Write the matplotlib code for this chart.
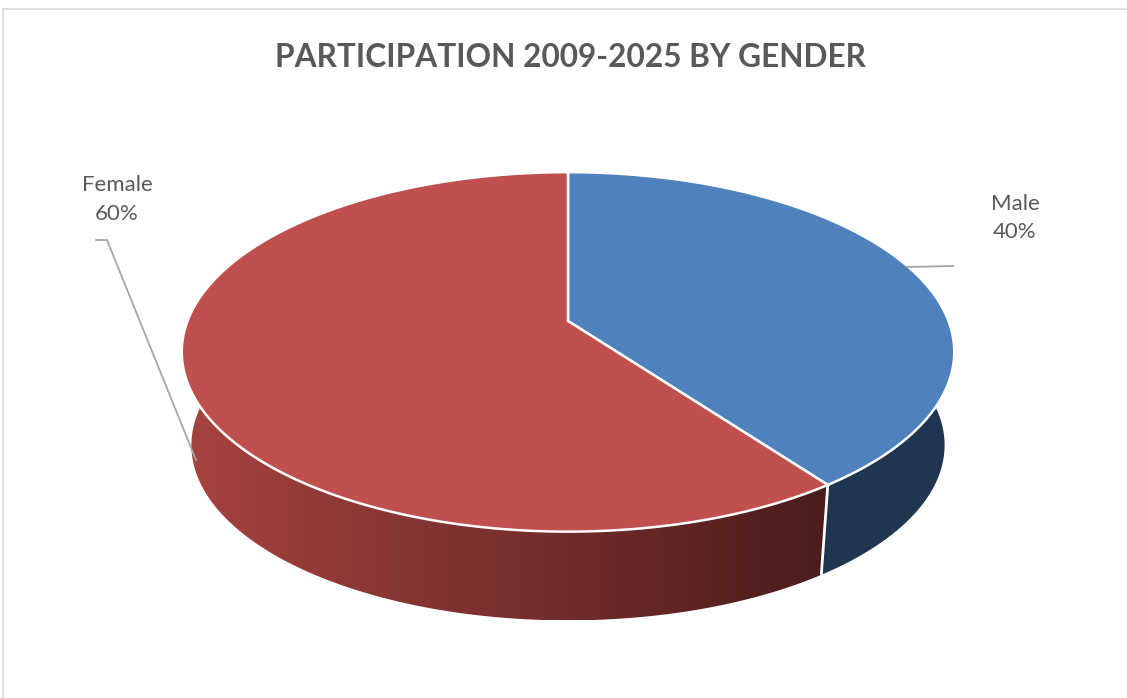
import numpy as np
import matplotlib
matplotlib.use("Agg")
import matplotlib.pyplot as plt
from matplotlib.patches import Polygon
from matplotlib.colors import LinearSegmentedColormap

# ---- data ----
categories = ["Male", "Female"]
values = [40, 60]
pct_labels = ["40%", "60%"]
title = "PARTICIPATION 2009-2025 BY GENDER"

top_colors = ["#4F81BD", "#C0504D"]
side_colors = ["#1F3550", None]          # female side uses a gradient
female_grad = ["#A6433F", "#4B1C1C"]
text_color = "#595959"
leader_color = "#A6A6A6"

W, H = 1127, 698
fig = plt.figure(figsize=(W / 100, H / 100), dpi=100)
ax = fig.add_axes([0, 0, 1, 1])
ax.set_xlim(0, W)
ax.set_ylim(H, 0)
ax.axis("off")

# ---- perspective pie geometry ----
cx, cy = 568.0, 321.0
sx, sy, k = 380.5, 174.4, 0.172
f_bot, h_bot = 0.975, 94.0


def proj(theta_deg, bottom=False):
    th = np.radians(theta_deg)
    X, Y = np.sin(th), np.cos(th)
    den = 1 + k * Y
    u, v = sx * X / den, sy * Y / den
    if bottom:
        return cx + f_bot * u, cy + h_bot - f_bot * v
    return cx + u, cy - v


total = float(sum(values))
bounds = np.concatenate([[0.0], np.cumsum(values) / total * 360.0])

side_lo, side_hi = 70.0, 290.0

# sides
for i in range(len(values)):
    a, b = max(bounds[i], side_lo), min(bounds[i + 1], side_hi)
    if a >= b:
        continue
    th = np.linspace(a, b, 200)
    tx, ty = proj(th)
    bx, by = proj(th, bottom=True)
    pts = np.column_stack([np.concatenate([tx, bx[::-1]]),
                           np.concatenate([ty, by[::-1]])])
    if side_colors[i] is not None:
        ax.add_patch(Polygon(pts, closed=True, facecolor=side_colors[i],
                             edgecolor="none", zorder=2))
    else:
        poly = Polygon(pts, closed=True, facecolor="none", edgecolor="none",
                       zorder=2)
        ax.add_patch(poly)
        cmap = LinearSegmentedColormap.from_list("g", female_grad)
        x0, x1 = pts[:, 0].min(), pts[:, 0].max()
        y0, y1 = pts[:, 1].min(), pts[:, 1].max()
        grad = np.linspace(0, 1, 256)[None, :]
        im = ax.imshow(grad, cmap=cmap, extent=(x0, x1, y1, y0),
                       aspect="auto", zorder=2, interpolation="bilinear")
        im.set_clip_path(poly)

# seams on the side
for bnd in bounds:
    if side_lo < bnd < side_hi:
        x_t, y_t = proj(bnd)
        x_b, y_b = proj(bnd, bottom=True)
        ax.plot([x_t, x_b], [y_t, y_b], color="white", lw=2.0, zorder=3,
                solid_capstyle="butt")

# top faces
for i in range(len(values)):
    th = np.linspace(bounds[i], bounds[i + 1], 300)
    tx, ty = proj(th)
    pts = np.column_stack([np.concatenate([[cx], tx]),
                           np.concatenate([[cy], ty])])
    ax.add_patch(Polygon(pts, closed=True, facecolor=top_colors[i],
                         edgecolor="white", lw=1.8, joinstyle="miter",
                         zorder=4))

# ---- labels & leader lines ----
font = "Lato"
lab_fs = 16
# Female
ax.text(117, 191, categories[1], ha="center", va="baseline", fontsize=lab_fs,
        color=text_color, family=font)
ax.text(117, 220, pct_labels[1], ha="center", va="baseline", fontsize=lab_fs,
        color=text_color, family=font)
ax.plot([96, 107, 196], [240, 240, 460], color=leader_color, lw=1.3, zorder=5)
# Male
ax.text(1015, 210, categories[0], ha="center", va="baseline", fontsize=lab_fs,
        color=text_color, family=font)
ax.text(1015, 238, pct_labels[0], ha="center", va="baseline", fontsize=lab_fs,
        color=text_color, family=font)
ax.plot([907, 953], [267, 266], color=leader_color, lw=1.3, zorder=5)

# ---- title ----
ax.text(570, 67, title, ha="center", va="baseline", fontsize=22.8,
        fontweight="bold", color=text_color, family=font)

# ---- chart border ----
ax.plot([3, W], [9, 9], color="#D9D9D9", lw=1.2, zorder=1)
ax.plot([3, 3], [9, H], color="#D9D9D9", lw=1.2, zorder=1)

fig.savefig("out.png", dpi=100, facecolor="white")
